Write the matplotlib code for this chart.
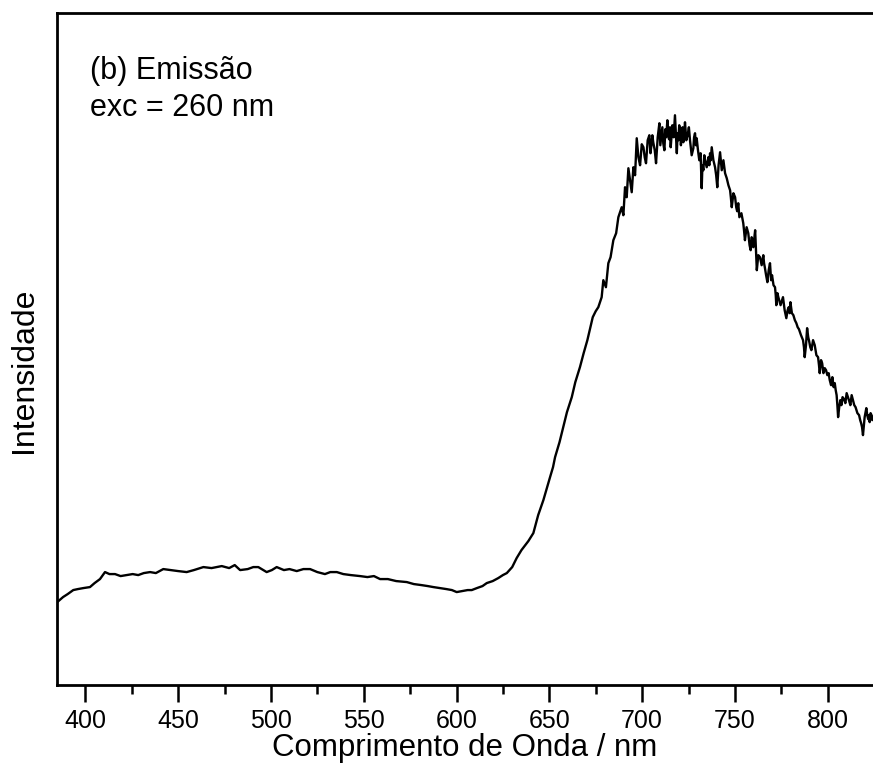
import matplotlib
matplotlib.use("Agg")
import matplotlib.pyplot as plt
from matplotlib.ticker import MultipleLocator, NullLocator

plt.rcParams['font.family'] = ['Liberation Sans', 'DejaVu Sans']

# Emission spectrum, excitation at 260 nm (arbitrary intensity units)
# Part 1: flat background and rising edge, 385-688 nm
wavelength_low = [
    384.9, 388.0, 390.5, 393.5, 396.0, 399.0, 402.5, 405.0, 407.9, 410.6,
    413.0, 416.0, 419.0, 422.3, 425.5, 428.5, 431.5, 434.9, 438.0, 442.0,
    446.0, 450.0, 454.6, 458.5, 463.6, 468.0, 473.5, 477.5, 480.5, 483.4,
    487.5, 490.5, 493.2, 497.7, 500.5, 503.1, 507.0, 510.0, 513.9, 517.5,
    521.1, 525.0, 529.1, 532.0, 535.5, 539.0, 543.0, 548.0, 552.0, 555.5,
    558.8, 563.0, 567.5, 573.2, 577.0, 581.0, 584.5, 587.5, 591.0, 594.5,
    597.5, 600.1, 603.0, 606.0, 608.2, 611.0, 614.0, 616.3, 619.5, 622.5,
    625.0, 627.1, 630.0, 632.4, 635.0, 638.7, 641.4, 644.0, 646.8, 648.5,
    650.4, 652.0, 653.1, 655.5, 657.5, 659.5, 662.1, 664.0, 666.5, 668.5,
    670.5, 672.0, 673.4, 675.0, 676.4, 678.2, 679.1, 680.5, 681.8, 683.0,
    684.5, 686.0, 687.2,
]
intensity_low = [
    83, 88, 91, 95, 96, 97, 98, 102, 106, 113,
    111, 111, 109, 110, 111, 110, 112, 113, 112, 116,
    115, 114, 113, 115, 118, 117, 119, 117, 120, 115,
    116, 118, 118, 113, 115, 118, 115, 116, 114, 116,
    116, 113, 111, 113, 113, 111, 110, 109, 108, 109,
    106, 106, 104, 103, 101, 100, 99, 98, 97, 96,
    95, 93, 94, 95, 95, 97, 99, 102, 104, 107,
    110, 112, 118, 127, 135, 144, 152, 170, 185, 196,
    208, 218, 228, 243, 258, 273, 288, 303, 318, 332,
    345, 357, 368, 374, 378, 388, 405, 398, 422, 428,
    445, 452, 468,
]

# Part 2: noisy emission band, 689-824 nm
wavelength_band = [
    689.0, 689.9, 690.8, 691.7, 692.6, 693.5, 694.4, 695.3, 696.2, 697.1,
    698.0, 698.9, 699.8, 700.7, 701.4, 702.1, 703.0, 703.9, 704.5, 705.0,
    705.5, 706.0, 706.8, 707.5, 708.4, 709.3, 709.8, 710.3, 710.9, 711.4,
    712.0, 712.5, 713.0, 713.6, 714.0, 714.5, 715.0, 715.4, 715.9, 716.3,
    717.0, 717.7, 718.2, 718.7, 719.1, 719.5, 720.0, 720.4, 720.9, 721.3,
    721.8, 722.2, 722.7, 723.1, 723.8, 724.5, 725.2, 725.8, 726.7, 727.6,
    728.0, 728.5, 729.0, 729.4, 730.1, 730.8, 731.5, 732.1, 732.5, 733.0,
    733.5, 733.9, 734.8, 735.7, 736.2, 736.6, 737.0, 737.5, 738.4, 739.3,
    739.9, 740.5, 741.2, 742.0, 742.9, 743.8, 744.7, 745.6, 746.5, 747.4,
    747.8, 748.3, 749.2, 750.1, 750.7, 751.2, 751.8, 752.4, 753.5, 754.5,
    754.9, 755.4, 756.3, 757.2, 757.9, 758.5, 759.0, 759.5, 759.9, 760.3,
    760.6, 760.9, 761.4, 761.8, 762.6, 763.5, 764.4, 765.3, 765.7, 766.1,
    766.8, 767.5, 768.2, 768.9, 769.5, 770.0, 770.8, 771.6, 772.0, 772.3,
    772.9, 773.4, 774.6, 775.9, 776.8, 777.7, 778.4, 779.0, 779.5, 779.9,
    780.7, 781.5, 782.3, 783.1, 783.8, 784.5, 785.6, 786.7, 787.2, 787.6,
    788.3, 788.9, 789.5, 790.0, 790.6, 791.2, 792.1, 793.0, 793.9, 794.8,
    795.3, 795.7, 796.4, 797.0, 797.7, 798.4, 799.1, 799.8, 800.5, 801.1,
    801.8, 802.5, 803.2, 803.8, 804.3, 804.8, 805.2, 805.6, 806.2, 806.8,
    807.4, 808.0, 808.8, 809.5, 810.2, 810.9, 811.6, 812.2, 812.9, 813.6,
    814.3, 815.0, 816.0, 816.9, 817.5, 818.0, 818.5, 819.0, 819.9, 820.8,
    821.3, 821.8, 822.2, 822.6, 823.1, 823.6, 824.0, 824.4,
]
intensity_band = [
    478, 470, 498, 488, 517, 505, 493, 518, 510, 547,
    528, 520, 541, 538, 528, 522, 545, 550, 532, 540,
    550, 543, 535, 522, 548, 562, 540, 548, 558, 542,
    535, 556, 548, 565, 552, 546, 558, 538, 550, 560,
    548, 570, 550, 532, 552, 545, 560, 555, 540, 548,
    558, 543, 552, 563, 545, 550, 558, 545, 530, 537,
    548, 552, 540, 547, 535, 525, 532, 497, 520, 515,
    530, 525, 518, 528, 520, 532, 525, 538, 525, 518,
    510, 498, 520, 533, 515, 525, 512, 507, 500, 495,
    488, 478, 492, 488, 478, 474, 482, 468, 472, 462,
    455, 445, 458, 452, 440, 435, 448, 446, 438, 441,
    450, 455, 432, 415, 430, 428, 420, 430, 422, 418,
    410, 403, 415, 422, 405, 410, 400, 398, 390, 380,
    392, 388, 380, 388, 375, 367, 375, 378, 372, 383,
    372, 370, 365, 362, 358, 356, 350, 345, 338, 328,
    340, 357, 348, 344, 338, 335, 345, 340, 330, 328,
    320, 312, 325, 322, 312, 317, 315, 310, 312, 305,
    300, 308, 298, 302, 295, 290, 280, 268, 278, 285,
    280, 288, 286, 282, 292, 288, 284, 280, 290, 285,
    280, 278, 272, 270, 265, 262, 258, 250, 268, 277,
    270, 266, 270, 263, 272, 270, 265, 268,
]

x_ticks = [400, 450, 500, 550, 600, 650, 700, 750, 800]

wavelength_nm = wavelength_low + wavelength_band
intensity = intensity_low + intensity_band

fig = plt.figure(figsize=(8.73, 7.73), dpi=100)
ax = fig.add_axes([0.065, 0.1138, 0.935, 0.869])

ax.plot(wavelength_nm, intensity, color="black", lw=1.7)

ax.set_xlim(384.6, 824.4)
ax.set_ylim(0, 672)

ax.set_xticks(x_ticks)
ax.xaxis.set_minor_locator(MultipleLocator(25))
ax.yaxis.set_major_locator(NullLocator())
ax.yaxis.set_minor_locator(NullLocator())
ax.tick_params(axis="x", which="major", direction="out", length=12, width=1.8,
               labelsize=18, pad=5)
ax.tick_params(axis="x", which="minor", direction="out", length=6.5, width=1.8)

for side in ("left", "top", "bottom"):
    ax.spines[side].set_linewidth(2.0)
ax.spines["right"].set_visible(False)

ax.set_xlabel("Comprimento de Onda / nm", fontsize=22.5, labelpad=0)
ax.set_ylabel("Intensidade", fontsize=23)
ax.yaxis.set_label_coords(-0.022, 0.469)

ax.text(0.041, 0.936, "(b) Emissão\nexc = 260 nm", transform=ax.transAxes,
        fontsize=22, va="top", ha="left", linespacing=1.3)

fig.savefig("out.png", dpi=100)
